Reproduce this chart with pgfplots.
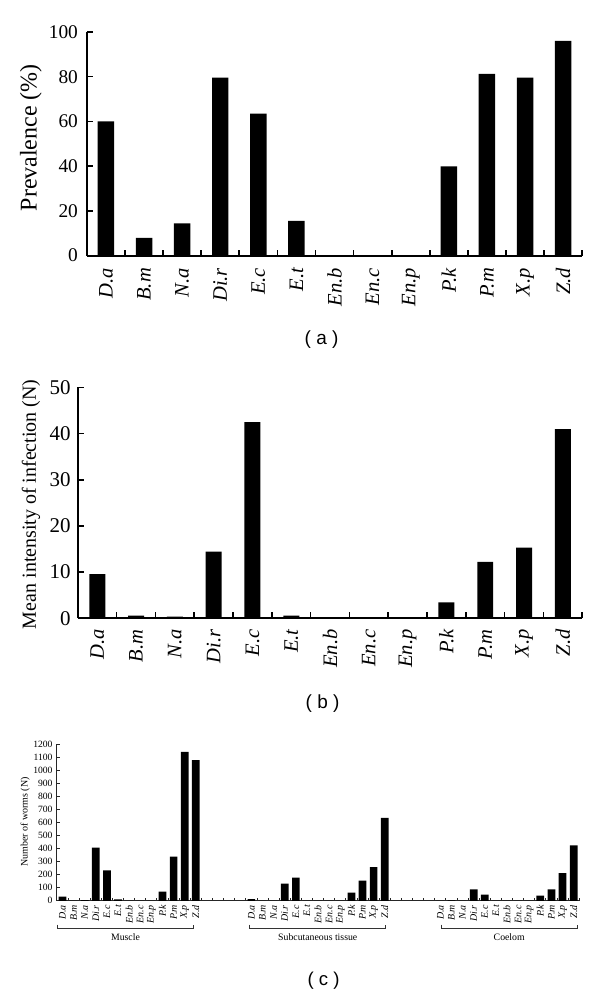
\documentclass[border=0pt]{standalone}
\usepackage{fontspec}
\setmainfont{Liberation Serif}
\newfontfamily\capfont{Liberation Sans}
\usepackage{pgfplots}
\pgfplotsset{compat=1.18}

\pgfplotsset{
  panel/.style={
    anchor=south west, scale only axis,
    axis x line*=bottom, axis y line*=left,
    tick align=inside,
    /pgf/number format/assume math mode=true,
    /pgf/number format/1000 sep={},
    clip=false,
  },
  blackbar/.style={ybar, bar shift=0pt, fill=black, draw=none, bar width=#1},
}

\begin{document}
\begin{tikzpicture}
\fill[white] (0,0) rectangle (300pt,498pt);

% ---------------- (a)
\begin{axis}[panel,
  at={(43.5pt,370pt)}, width=248pt, height=112pt,
  xmin=-0.5, xmax=12.5, ymin=0, ymax=100,
  axis line style={line width=0.9pt, black},
  tick style={draw=black, line width=0.8pt},
  major tick length=3pt,
  ytick={0,20,...,100},
  xtick={0.5,1.5,...,12.5}, xticklabels={},
  extra x ticks={0,...,12},
  extra x tick labels={D.a,B.m,N.a,Di.r,E.c,E.t,En.b,En.c,En.p,P.k,P.m,X.p,Z.d},
  extra x tick style={major tick length=0pt},
  yticklabel style={font=\fontsize{9.7}{10}\selectfont, inner sep=0pt, xshift=-4.3pt},
  xticklabel style={font=\fontsize{10.3}{11}\selectfont\itshape, inner sep=0pt, yshift=-6pt, rotate=90, anchor=east},
  ylabel={Prevalence (\%)},
  ylabel style={font=\fontsize{12}{13}\selectfont, at={(axis description cs:-0.113,0.527)}, anchor=center},
]
\addplot[blackbar=8.25pt] coordinates {
(0,60) (1,8) (2,14.4) (3,79.6) (4,63.5) (5,15.6) (6,0) (7,0) (8,0) (9,39.9) (10,81.3) (11,79.6) (12,96)};
\end{axis}

% ---------------- (b)
\begin{axis}[panel,
  at={(39pt,188.5pt)}, width=252.5pt, height=115.5pt,
  xmin=-0.5, xmax=12.5, ymin=0, ymax=50,
  axis line style={line width=0.9pt, black},
  tick style={draw=black, line width=0.8pt},
  major tick length=3pt,
  ytick={0,10,...,50},
  xtick={0.5,1.5,...,12.5}, xticklabels={},
  extra x ticks={0,...,12},
  extra x tick labels={D.a,B.m,N.a,Di.r,E.c,E.t,En.b,En.c,En.p,P.k,P.m,X.p,Z.d},
  extra x tick style={major tick length=0pt},
  yticklabel style={font=\fontsize{10.5}{11}\selectfont, inner sep=0pt, xshift=-3.5pt},
  xticklabel style={font=\fontsize{10.3}{11}\selectfont\itshape, inner sep=0pt, yshift=-5.5pt, rotate=90, anchor=east},
  ylabel={Mean intensity of infection (N)},
  ylabel style={font=\fontsize{10}{11}\selectfont, at={(axis description cs:-0.093,0.494)}, anchor=center},
]
\addplot[blackbar=8pt] coordinates {
(0,9.55) (1,0.57) (2,0.36) (3,14.4) (4,42.5) (5,0.57) (6,0) (7,0) (8,0) (9,3.4) (10,12.2) (11,15.3) (12,41.0)};
\end{axis}

% ---------------- (c)
\begin{axis}[panel,
  at={(28.5pt,47pt)}, width=261.5pt, height=78.5pt,
  xmin=-0.5, xmax=46.5, ymin=0, ymax=1200,
  axis line style={line width=0.5pt, black!85},
  tick style={draw=black!85, line width=0.45pt},
  major tick length=1.6pt,
  ytick={0,100,...,1200},
  xtick={0.5,1.5,...,46.5}, xticklabels={},
  extra x ticks={0,...,12,17,18,...,29,34,35,...,46},
  extra x tick labels={D.a,B.m,N.a,Di.r,E.c,E.t,En.b,En.c,En.p,P.k,P.m,X.p,Z.d,
               D.a,B.m,N.a,Di.r,E.c,E.t,En.b,En.c,En.p,P.k,P.m,X.p,Z.d,
               D.a,B.m,N.a,Di.r,E.c,E.t,En.b,En.c,En.p,P.k,P.m,X.p,Z.d},
  extra x tick style={major tick length=0pt},
  yticklabel style={font=\fontsize{4.8}{5}\selectfont, inner sep=0pt, xshift=-2pt},
  xticklabel style={font=\fontsize{5}{5}\selectfont\itshape, inner sep=0pt, yshift=-2pt, rotate=90, anchor=east},
  ylabel={Number of worms (N)},
  ylabel style={font=\fontsize{5}{5}\selectfont, at={(axis description cs:-0.061,0.503)}, anchor=center},
]
\addplot[blackbar=3.85pt] coordinates {
(0,32) (1,0) (2,5) (3,407) (4,233) (5,10) (6,0) (7,0) (8,0) (9,70) (10,338) (11,1140) (12,1077)
(17,12) (18,0) (19,0) (20,132) (21,178) (22,0) (23,0) (24,0) (25,0) (26,62) (27,155) (28,258) (29,635)
(34,0) (35,3) (36,0) (37,88) (38,48) (39,0) (40,0) (41,0) (42,0) (43,40) (44,88) (45,212) (46,425)};
\draw[black!80, line width=0.45pt] (axis cs:-0.47,-183) -- (axis cs:-0.47,-214) -- (axis cs:11.8,-214) -- (axis cs:11.8,-183);
\draw[black!80, line width=0.45pt] (axis cs:16.84,-183) -- (axis cs:16.84,-214) -- (axis cs:29.1,-214) -- (axis cs:29.1,-183);
\draw[black!80, line width=0.45pt] (axis cs:34.1,-183) -- (axis cs:34.1,-214) -- (axis cs:46.3,-214) -- (axis cs:46.3,-183);
\node[font=\fontsize{4.9}{5}\selectfont] at (axis cs:5.67,-275) {Muscle};
\node[font=\fontsize{4.9}{5}\selectfont] at (axis cs:22.97,-275) {Subcutaneous tissue};
\node[font=\fontsize{4.9}{5}\selectfont] at (axis cs:40.2,-275) {Coelom};
\end{axis}

% captions
\node[font=\capfont\fontsize{9.5}{10}\selectfont] at (161pt,328pt) {( a )};
\node[font=\capfont\fontsize{9.5}{10}\selectfont] at (161.5pt,145.5pt) {( b )};
\node[font=\capfont\fontsize{9.3}{10}\selectfont] at (162pt,7pt) {( c )};
\end{tikzpicture}
\end{document}
